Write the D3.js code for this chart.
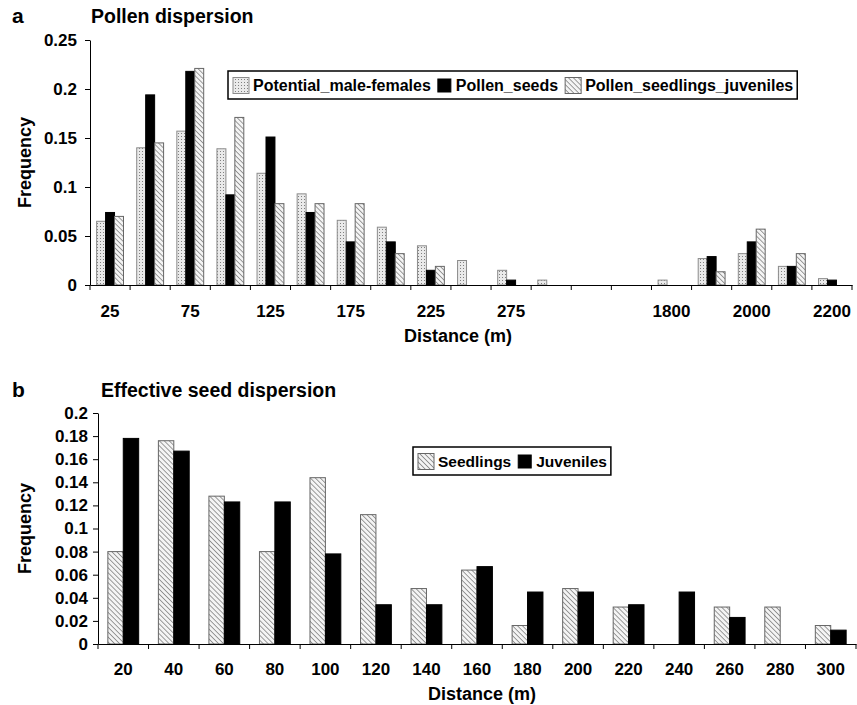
<!DOCTYPE html>
<html>
<head>
<meta charset="utf-8">
<script src="https://cdn.jsdelivr.net/npm/d3@7"></script>
<style>
  body { margin: 0; background: #fff; }
  text { font-family: "Liberation Sans", Arial, sans-serif; font-weight: bold; fill: #000; }
</style>
</head>
<body>
<div id="plot"></div>
<script>
// ---- data: panel a (pollen) ----
const pollenLabels = ["25", "", "75", "", "125", "", "175", "", "225", "", "275", "", "", "", "1800", "", "2000", "", "2200"];
const pollenSeries = ["Potential_male-females", "Pollen_seeds", "Pollen_seedlings_juveniles"];
const potentialMF = [0.065, 0.140, 0.157, 0.139, 0.114, 0.093, 0.066, 0.059, 0.040, 0.025, 0.015, 0.005, 0, 0, 0.005, 0.027, 0.032, 0.019, 0.0065];
const pollenSeeds = [0.074, 0.194, 0.218, 0.092, 0.151, 0.074, 0.044, 0.044, 0.015, 0, 0.005, 0, 0, 0, 0, 0.029, 0.044, 0.019, 0.005];
const pollenSeedlingsJuv = [0.070, 0.145, 0.221, 0.171, 0.083, 0.083, 0.083, 0.032, 0.019, 0, 0, 0, 0, 0, 0, 0.0135, 0.057, 0.032, 0];
const pollenTicks = [0, 0.05, 0.1, 0.15, 0.2, 0.25];
const pollenTickLabels = ["0", "0.05", "0.1", "0.15", "0.2", "0.25"];

// ---- data: panel b (seed) ----
const seedLabels = ["20", "40", "60", "80", "100", "120", "140", "160", "180", "200", "220", "240", "260", "280", "300"];
const seedSeries = ["Seedlings", "Juveniles"];
const seedlings = [0.080, 0.176, 0.128, 0.080, 0.144, 0.112, 0.048, 0.064, 0.016, 0.048, 0.032, 0, 0.032, 0.032, 0.016];
const juveniles = [0.178, 0.167, 0.123, 0.123, 0.078, 0.034, 0.034, 0.067, 0.045, 0.045, 0.034, 0.045, 0.023, 0, 0.012];
const seedTicks = [0, 0.02, 0.04, 0.06, 0.08, 0.1, 0.12, 0.14, 0.16, 0.18, 0.2];
const seedTickLabels = ["0", "0.02", "0.04", "0.06", "0.08", "0.1", "0.12", "0.14", "0.16", "0.18", "0.2"];

const W = 857, H = 705;
const svg = d3.select("#plot").append("svg").attr("width", W).attr("height", H);

// patterns
const defs = svg.append("defs");
const dots = defs.append("pattern").attr("id", "dots")
  .attr("patternUnits", "userSpaceOnUse").attr("width", 3).attr("height", 3);
dots.append("rect").attr("width", 3).attr("height", 3).attr("fill", "#eaeaea");
dots.append("rect").attr("x", 1).attr("y", 1).attr("width", 1).attr("height", 1).attr("fill", "#808080");

const hatch = defs.append("pattern").attr("id", "hatch")
  .attr("patternUnits", "userSpaceOnUse").attr("width", 3.5).attr("height", 3.5)
  .attr("patternTransform", "rotate(-45)");
hatch.append("rect").attr("width", 3.5).attr("height", 3.5).attr("fill", "#f4f4f4");
hatch.append("line").attr("x1", 0).attr("y1", 0).attr("x2", 0).attr("y2", 3.5)
  .attr("stroke", "#6a6a6a").attr("stroke-width", 1.3);

const styles = {
  dots: { fill: "url(#dots)", stroke: "#8c8c8c" },
  black: { fill: "#000", stroke: "#000" },
  hatch: { fill: "url(#hatch)", stroke: "#666" }
};

function panel(opt) {
  const g = svg.append("g");
  const x = d3.scaleBand().domain(d3.range(opt.labels.length)).range([opt.x0, opt.x1]);
  const step = x.bandwidth();
  const half = step * opt.group / 2;
  const xs = d3.scaleBand().domain(d3.range(opt.series.length)).range([step / 2 - half, step / 2 + half]);
  const y = d3.scaleLinear().domain([0, opt.ymax]).range([opt.y0, opt.y1]);

  // bars
  opt.series.forEach((vals, si) => {
    const st = styles[opt.kinds[si]];
    g.append("g").selectAll("rect")
      .data(vals.map((v, i) => ({ i, v })).filter(d => d.v > 0))
      .join("rect")
      .attr("x", d => x(d.i) + xs(si))
      .attr("width", xs.bandwidth())
      .attr("y", d => y(d.v))
      .attr("height", d => y(0) - y(d.v))
      .attr("fill", st.fill)
      .attr("stroke", st.stroke)
      .attr("stroke-width", 1);
  });

  // y axis
  const ya = g.append("g").attr("transform", `translate(${opt.x0},0)`)
    .call(d3.axisLeft(y).tickValues(opt.ticks).tickSize(5).tickSizeOuter(0).tickPadding(opt.yPad)
      .tickFormat((d, i) => opt.tickLabels[i]));
  ya.selectAll("text").style("font-size", "17px").style("font-family", null);
  ya.selectAll("line,path").attr("stroke", "#000");

  // x axis: labels at centres, ticks at category boundaries
  const xa = g.append("g").attr("transform", `translate(0,${opt.y0})`)
    .call(d3.axisBottom(x).tickSize(0).tickSizeOuter(0).tickPadding(opt.labelPad)
      .tickFormat(i => opt.labels[i]));
  xa.selectAll("text").style("font-size", "17px").style("font-family", null);
  xa.select("path").attr("stroke", "#000");
  xa.selectAll(".bound").data(d3.range(opt.labels.length + 1)).join("line")
    .attr("class", "bound")
    .attr("x1", i => opt.x0 + i * step).attr("x2", i => opt.x0 + i * step)
    .attr("y1", 0).attr("y2", 5).attr("stroke", "#000");

  // titles
  g.append("text").attr("x", 12).attr("y", opt.titleY).style("font-size", "21px").text(opt.letter);
  g.append("text").attr("x", opt.titleX).attr("y", opt.titleY).style("font-size", "19.5px").text(opt.title);
  g.append("text").attr("text-anchor", "middle")
    .attr("transform", `translate(31,${(opt.y0 + opt.y1) / 2}) rotate(-90)`)
    .style("font-size", "18px").text("Frequency");
  g.append("text").attr("text-anchor", "middle").attr("x", opt.xTitleX).attr("y", opt.xTitleY)
    .style("font-size", "18px").text("Distance (m)");

  // legend
  const lg = g.append("g");
  const box = lg.append("rect").attr("x", opt.leg.x).attr("y", opt.leg.y)
    .attr("width", 10).attr("height", opt.leg.h)
    .attr("fill", "#fff").attr("stroke", "#000").attr("stroke-width", 1.5);
  let cx = opt.leg.x + 5;
  opt.names.forEach((name, si) => {
    const st = styles[opt.kinds[si]];
    const sw = opt.kinds[si] === "black" ? 13 : 16;
    const sh = opt.kinds[si] === "black" ? 13 : 16;
    lg.append("rect").attr("x", cx).attr("y", opt.leg.y + opt.leg.h / 2 - sh / 2 + 0.5)
      .attr("width", sw).attr("height", sh)
      .attr("fill", st.fill).attr("stroke", st.stroke);
    cx += sw + (opt.kinds[si] === "black" ? 5 : 4);
    const t = lg.append("text").attr("x", cx).attr("y", opt.leg.y + opt.leg.h / 2 + 6)
      .style("font-size", opt.leg.fs + "px").text(name);
    cx += t.node().getComputedTextLength() + 7;
  });
  box.attr("width", cx - opt.leg.x - 3);
}

panel({
  labels: pollenLabels, series: [potentialMF, pollenSeeds, pollenSeedlingsJuv],
  names: pollenSeries, kinds: ["dots", "black", "hatch"],
  x0: 90, x1: 852, y0: 285, y1: 40, ymax: 0.25, group: 0.67,
  ticks: pollenTicks, tickLabels: pollenTickLabels, labelPad: 20, yPad: 8,
  letter: "a", title: "Pollen dispersion", titleX: 91, titleY: 23,
  xTitleX: 458, xTitleY: 342,
  leg: { x: 228, y: 71, h: 28, fs: 16 }
});

panel({
  labels: seedLabels, series: [seedlings, juveniles],
  names: seedSeries, kinds: ["hatch", "black"],
  x0: 98, x1: 856, y0: 644, y1: 413, ymax: 0.2, group: 0.61,
  ticks: seedTicks, tickLabels: seedTickLabels, labelPad: 19, yPad: 5,
  letter: "b", title: "Effective seed dispersion", titleX: 101, titleY: 397,
  xTitleX: 482, xTitleY: 700,
  leg: { x: 413, y: 447, h: 28, fs: 15.5 }
});
</script>
</body>
</html>
